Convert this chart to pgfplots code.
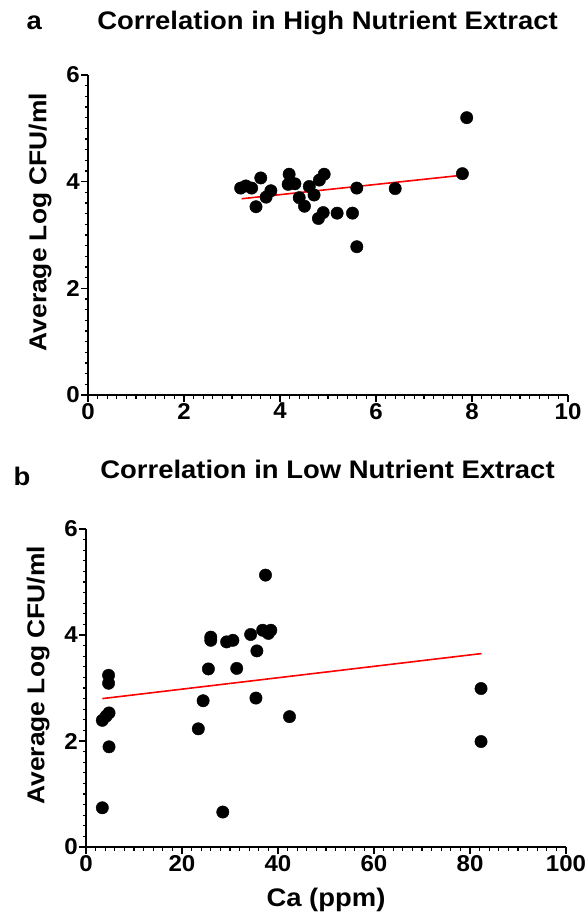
\documentclass[border=0pt]{standalone}
\usepackage{pgfplots}
\pgfplotsset{compat=1.18}
\usepackage{fontspec}
\setmainfont{Liberation Sans}[FakeStretch=1.08]
\newfontfamily\tickfamily{Liberation Sans}[FakeStretch=1.05]
\newcommand{\tf}{\tickfamily\fontsize{23}{23}\selectfont\bfseries}
\newcommand{\lf}{\fontsize{25.5}{25.5}\selectfont\bfseries}
\newcommand{\yf}{\fontsize{24.5}{24.5}\selectfont\bfseries}
\pgfplotsset{
  prism/.style={
    scale only axis,
    axis x line=bottom, axis y line=left,
    axis line style={-, line width=1.4bp},
    every tick/.style={black, line width=1.2bp},
    tick align=outside,
    major tick length=7bp, minor tick length=3.5bp,
    /pgf/number format/assume math mode=true,
    tick label style={font=\tf},
    xticklabel style={inner sep=1bp},
    yticklabel style={inner sep=1bp},
    ylabel={Average Log CFU/ml},
    ylabel style={font=\yf, at={(axis description cs:-0.1,0.54)}, anchor=center},
    ymin=0, ymax=6, ytick={0,2,4,6}, minor y tick num=9,
    clip=false,
  },
  dots/.style={only marks, mark=*, mark size=6.2bp, mark options={fill=black, draw=black}},
  fit/.style={red, line width=1.6bp, no marks},
}
\begin{document}
\begin{tikzpicture}
\useasboundingbox (0,0) rectangle (587bp,-916bp);
\node[anchor=base, font=\lf] at (327.5bp,-29bp) {Correlation in High Nutrient Extract};
\node[anchor=base west, font=\lf] at (23bp,-29bp) {a};
\node[anchor=base, font=\lf] at (327.5bp,-478bp) {Correlation in Low Nutrient Extract};
\node[anchor=base west, font=\lf] at (10bp,-485bp) {b};
\begin{axis}[prism, at={(88bp,-395bp)}, anchor=south west,
  width=480bp, height=320bp,
  xmin=0, xmax=10, xtick={0,2,4,6,8,10}, minor x tick num=9]
\addplot[dots] coordinates {
(7.89,5.20) (7.80,4.15) (6.40,3.87) (5.60,3.88) (5.60,2.78) (5.51,3.41)
(5.19,3.41) (4.90,3.42) (4.80,3.31) (4.92,4.14) (4.82,4.03) (4.71,3.75)
(4.61,3.91) (4.51,3.54) (4.40,3.70) (4.31,3.96) (4.19,4.14) (4.17,3.95)
(3.81,3.83) (3.71,3.71) (3.60,4.07) (3.50,3.53) (3.41,3.88) (3.29,3.92)
(3.18,3.88)
};
\addplot[fit] coordinates {(3.2,3.68) (7.89,4.13)};
\end{axis}
\begin{axis}[prism, at={(86bp,-847bp)}, anchor=south west,
  width=480bp, height=318bp,
  xmin=0, xmax=100, xtick={0,20,40,60,80,100}, minor x tick num=9,
  xlabel={Ca (ppm)},
  xlabel style={font=\lf, at={(axis description cs:0.5,-0.167)}, anchor=center}]
\addplot[dots] coordinates {
(37.4,5.13) (36.8,4.09) (38.5,4.09) (38.0,4.03) (34.3,4.01) (35.6,3.70)
(35.4,2.81) (42.4,2.46) (31.4,3.37) (30.6,3.90) (29.3,3.87) (26.0,3.96)
(26.0,3.90) (25.5,3.36) (24.4,2.76) (23.4,2.23) (28.5,0.66) (3.4,0.74)
(4.8,1.89) (4.7,3.24) (4.7,3.09) (4.8,2.53) (4.2,2.47) (3.4,2.39)
(82.3,2.99) (82.3,1.99)
};
\addplot[fit] coordinates {(3.4,2.80) (82.4,3.65)};
\end{axis}
\end{tikzpicture}
\end{document}
